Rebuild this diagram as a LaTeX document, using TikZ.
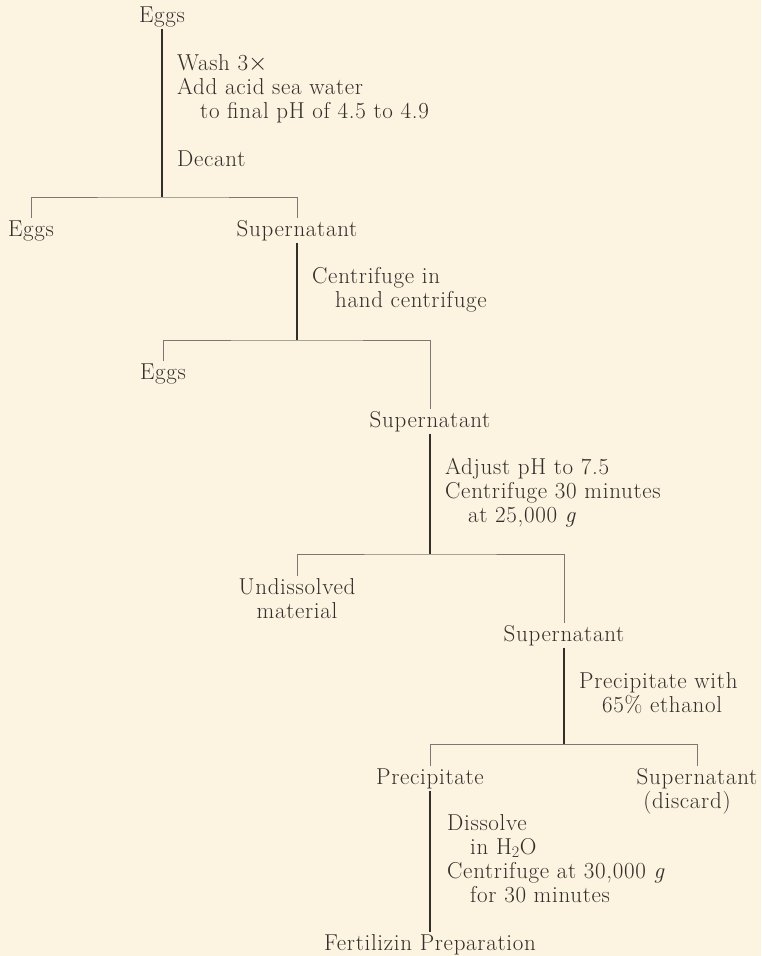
\documentclass[tikz,border=0pt]{standalone}
\usepackage{fontspec}
\setmainfont{Latin Modern Roman}[LetterSpace=3]
\usepackage{tikz}
\definecolor{paper}{RGB}{252,243,225}
\definecolor{ink}{RGB}{50,46,42}
\tikzset{
	product/.style={anchor=base, inner sep=2pt, align=center, text=ink, font=\fontsize{23}{24}\selectfont},
	note/.style={anchor=base west, inner sep=0pt, align=left, text=ink, font=\fontsize{23}{24}\selectfont},
	stem/.style={draw=ink, line width=1.1pt},
	branch/.style={draw=ink!65, line width=0.6pt},
}

\begin{document}
\begin{tikzpicture}[x=1pt, y=-1pt]
			%%%%% START %%%%%
			
			\fill[paper] (0, 0) rectangle (761, 956);
			\useasboundingbox (0, 0) rectangle (761, 956);
			
			% multi-line nodes sit on the baseline of their last line
			\node[product] (eggs0) at (162, 22) {Eggs};
			\node[note] (wash) at (177, 166) {Wash 3$\times$\\Add acid sea water\\\hspace*{1em}to final pH of 4.5 to 4.9\\[24pt]Decant};
			
			\coordinate (split1) at (162, 197);
			\node[product] (eggs1) at (31, 236) {Eggs};
			\node[product] (sup1) at (297, 236) {Supernatant};
			\draw[stem] (eggs0) -- (split1);
			\draw[branch] (eggs1) |- (split1) -| (sup1);
			
			\node[note] (spin1) at (312, 307) {Centrifuge in\\\hspace*{1em}hand centrifuge};
			
			\coordinate (split2) at (297, 340);
			\node[product] (eggs2) at (163, 379) {Eggs};
			\node[product] (sup2) at (430, 427) {Supernatant};
			\draw[stem] (sup1) -- (split2);
			\draw[branch] (eggs2) |- (split2) -| (sup2);
			
			\node[note] (adjust) at (445, 522) {Adjust pH to 7.5\\Centrifuge 30 minutes\\\hspace*{1em}at 25,000 \textit{g}};
			
			\coordinate (split3) at (430, 554);
			\node[product] (undis) at (297, 618) {Undissolved\\material};
			\node[product] (sup3) at (564, 641) {Supernatant};
			\draw[stem] (sup2) -- (split3);
			\draw[branch] (undis) |- (split3) -| (sup3);
			
			\node[note] (ethanol) at (579, 712) {Precipitate with\\\hspace*{1em}65\% ethanol};
			
			\coordinate (split4) at (564, 744);
			\node[product] (ppt) at (430, 784) {Precipitate};
			\node[product] (discard) at (697, 808) {Supernatant\\(discard)\hspace*{20pt}};
			\draw[stem] (sup3) -- (split4);
			\draw[branch] (ppt) |- (split4) -| (discard);
			
			\node[note] (dissolve) at (447, 902) {Dissolve\\\hspace*{1em}in H\textsubscript{2}O\\Centrifuge at 30,000 \textit{g}\\\hspace*{1em}for 30 minutes};
			
			\node[product] (fert) at (430, 950) {Fertilizin Preparation};
			\draw[stem] (ppt) -- (fert);
			
			%%%%% END %%%%%
\end{tikzpicture}
\end{document}
